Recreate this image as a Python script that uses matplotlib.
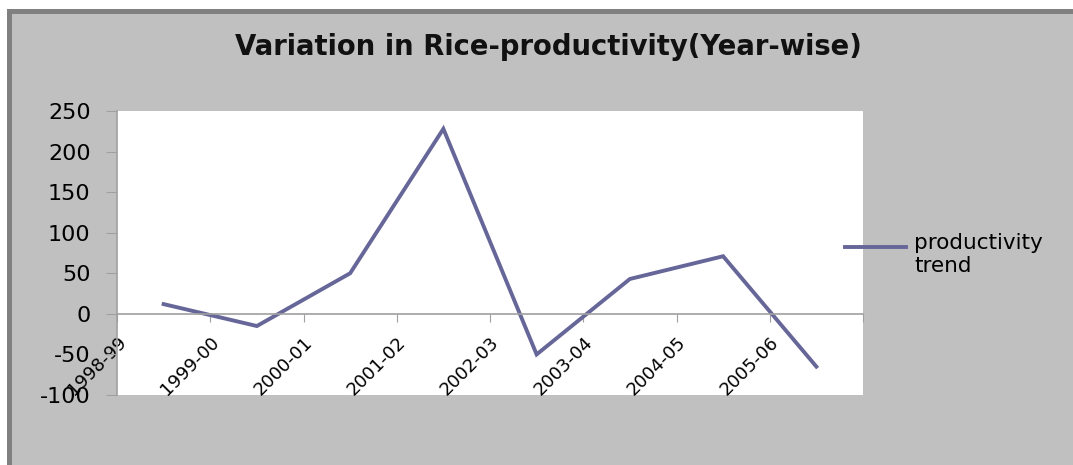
import matplotlib
matplotlib.use('Agg')
import matplotlib.pyplot as plt
from matplotlib.patches import Rectangle

plt.rcParams['axes.unicode_minus'] = False

years = ['1998-99', '1999-00', '2000-01', '2001-02',
         '2002-03', '2003-04', '2004-05', '2005-06']
productivity = [12, -15, 50, 228, -50, 43, 71, -65]
series_name = 'productivity\ntrend'
title = 'Variation in Rice-productivity(Year-wise)'

W, H = 1073, 465
fig = plt.figure(figsize=(W / 100, H / 100), dpi=100, facecolor='white')

# grey chart area with a darker edge on top and left
fig.patches.append(Rectangle((7 / W, 0), 1 - 7 / W, 1 - 9 / H,
                             transform=fig.transFigure, facecolor='#c0c0c0',
                             edgecolor='none', zorder=0))
fig.patches.append(Rectangle((7 / W, 1 - 14 / H), 1 - 7 / W, 5 / H,
                             transform=fig.transFigure, facecolor='#808080',
                             edgecolor='none', zorder=1))
fig.patches.append(Rectangle((7 / W, 0), 5 / W, 1 - 9 / H,
                             transform=fig.transFigure, facecolor='#808080',
                             edgecolor='none', zorder=1))

ax = fig.add_axes([117 / W, 1 - 395 / H, (863 - 117) / W, (395 - 111) / H])
ax.set_zorder(3)
ax.set_facecolor('white')

xs = [i + 0.5 for i in range(len(years))]
line, = ax.plot(xs, productivity, color='#666699', lw=2.8,
                solid_joinstyle='miter', label=series_name, clip_on=False)

ax.set_xlim(0, len(years))
ax.set_ylim(-100, 250)
ax.set_yticks(range(-100, 251, 50))

# category axis crosses at zero
ax.spines['bottom'].set_position(('data', 0))
ax.spines['top'].set_visible(False)
ax.spines['right'].set_visible(False)
for s in ['bottom', 'left']:
    ax.spines[s].set_color('#a0a0a0')
    ax.spines[s].set_linewidth(1.2)

ax.set_xticks(range(len(years) + 1))
ax.set_xticklabels(years + [''], rotation=45, ha='right',
                   rotation_mode='anchor', fontsize=13)
ax.tick_params(axis='x', direction='out', length=6, color='#a0a0a0',
               pad=8)
ax.tick_params(axis='y', direction='out', length=8, color='#a0a0a0',
               labelsize=16, pad=11)

fig.text(0.511, 1 - 47 / H, title, ha='center', va='center',
         fontsize=19.8, fontweight='bold', color='#111111')

# taller handle box lifts the line up to the first text row
leg = fig.legend(handles=[line], loc='center left',
                 bbox_to_anchor=(826 / W, 1 - 256 / H), frameon=False,
                 fontsize=15.5, handlelength=2.8, handletextpad=0.4,
                 handleheight=3.0)
leg.set_zorder(4)

fig.savefig('out.png', dpi=100, facecolor=fig.get_facecolor())
